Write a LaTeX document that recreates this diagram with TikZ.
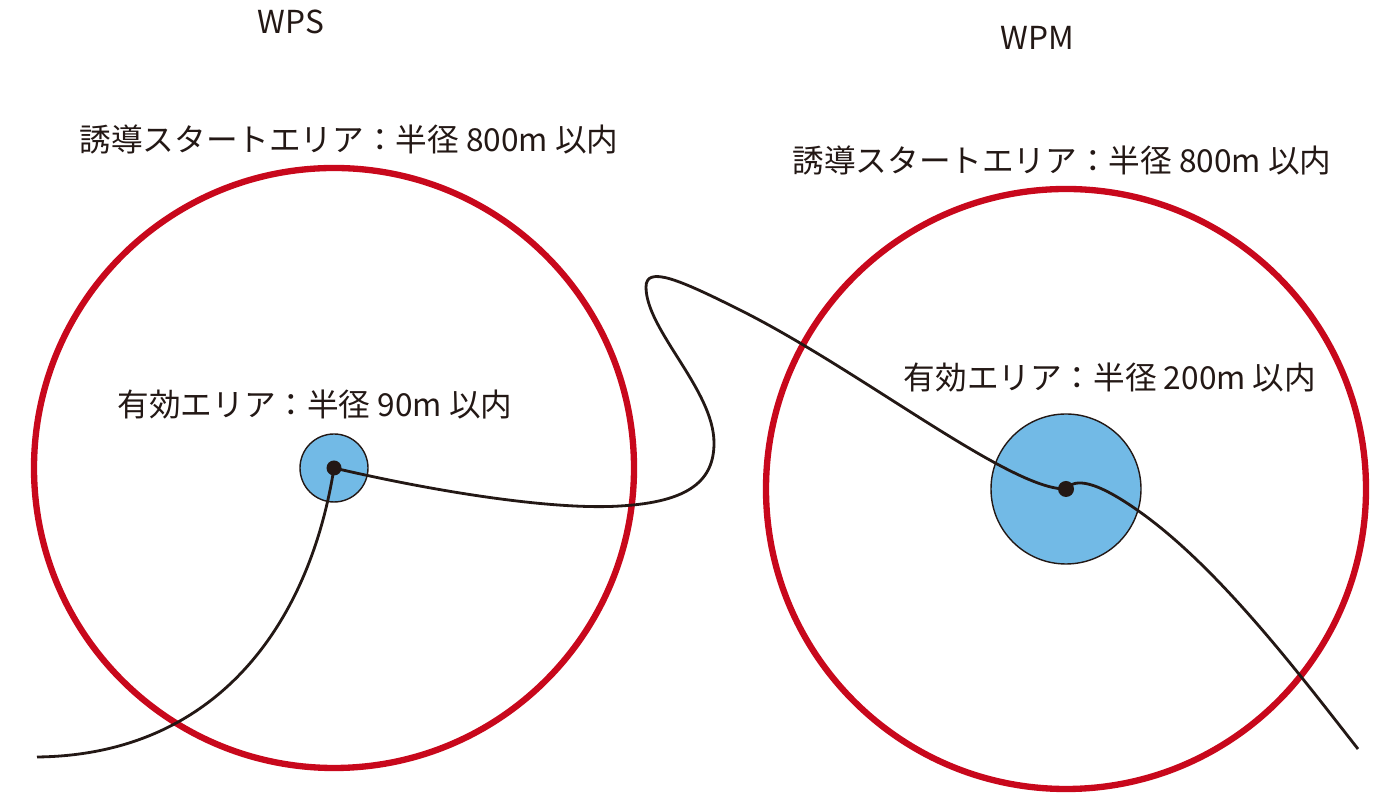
\documentclass[tikz,border=0pt]{standalone}
\usepackage{fontspec}
\setmainfont{Noto Sans CJK JP}
\definecolor{areared}{RGB}{200,8,28}
\definecolor{areablue}{RGB}{114,186,230}
\definecolor{pathblack}{RGB}{35,24,21}

\begin{document}
\begin{tikzpicture}

\tikzstyle{startarea}=[shape=circle, draw=areared, line width=1.8pt,
    minimum size=6cm, inner sep=0pt]
\tikzstyle{validarea}=[shape=circle, draw=pathblack, line width=0.4pt,
    fill=areablue, inner sep=0pt]
\tikzstyle{dot}=[shape=circle, fill=pathblack, minimum size=0.15cm, inner sep=0pt]
\tikzstyle{label}=[font=\fontsize{9}{11}\selectfont, text=pathblack]
\tikzstyle{route}=[draw=pathblack, line width=0.8pt]

  \useasboundingbox (0,0) rectangle (14,8);

  % WPS
  \node[startarea] (wpsstart) at (3.34,3.32) {};
  \node[validarea, minimum size=0.68cm] (wpsvalid) at (3.34,3.32) {};
  \node[label] (wpsname) at (2.91,7.78) {WPS};
  \node[label] (wpsstartlabel) at (3.49,6.6) {誘導スタートエリア：半径 800m 以内};
  \node[label] (wpsvalidlabel) at (3.15,3.95) {有効エリア：半径 90m 以内};

  % WPM
  \node[startarea] (wpmstart) at (10.66,3.11) {};
  \node[validarea, minimum size=1.5cm] (wpmvalid) at (10.66,3.11) {};
  \node[label] (wpmname) at (10.37,7.62) {WPM};
  \node[label] (wpmstartlabel) at (10.62,6.39) {誘導スタートエリア：半径 800m 以内};
  \node[label] (wpmvalidlabel) at (11.1,4.22) {有効エリア：半径 200m 以内};

  % route
  \coordinate (start) at (0.37,0.43);
  \coordinate (goal) at (13.58,0.51);
  \draw[route] (start) .. controls (2.2,0.45) and (3.1,1.8) .. (wpsvalid.center);
  \draw[route] (wpsvalid.center) .. controls (4.5,3.05) and (5.6,2.9) .. (6.2,2.94)
    .. controls (6.9,2.98) and (7.14,3.2) .. (7.14,3.57)
    .. controls (7.14,4.1) and (6.46,4.7) .. (6.46,5.13)
    .. controls (6.46,5.35) and (6.8,5.2) .. (7.4,4.9)
    .. controls (8.6,4.3) and (10.1,3.1) .. (wpmvalid.center);
  \draw[route] (wpmvalid.center) .. controls (10.75,3.22) and (10.95,3.2) .. (11.4,2.88)
    .. controls (12.2,2.31) and (13.0,1.25) .. (goal);

  \node[dot] (wpsdot) at (wpsvalid.center) {};
  \node[dot, minimum size=0.16cm] (wpmdot) at (wpmvalid.center) {};

\end{tikzpicture}
\end{document}
